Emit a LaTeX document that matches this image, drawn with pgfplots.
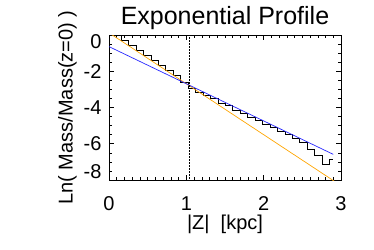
\documentclass[border=0pt]{standalone}
\usepackage{pgfplots}
\pgfplotsset{compat=1.18}
\usepackage{fontspec}
\setmainfont{Liberation Sans}
\definecolor{idlorange}{RGB}{255,165,0}
\definecolor{idlblue}{RGB}{40,40,255}
\begin{document}
\begin{tikzpicture}
\useasboundingbox (-109pt,-69pt) rectangle (265pt,180pt);
\begin{axis}[at={(0,0)}, anchor=south west, scale only axis,
  width=232pt, height=145pt,
  xmin=0, xmax=3, ymin=-8, ymax=0,
  xtick={0,1,2,3}, ytick={-8,-6,-4,-2,0},
  yticklabels={\raisebox{8pt}[\height][\depth]{-8},-6,-4,-2,\raisebox{-7pt}[\height][\depth]{0}},
  minor x tick num=9, minor y tick num=3,
  tick align=inside, major tick length=5pt, minor tick length=3pt,
  tick style={black, line width=0.6pt},
  axis line style={line width=0.8pt},
  /pgf/number format/assume math mode=true,
  ticklabel style={font=\fontsize{20}{24}\selectfont},
  xticklabel style={yshift=-13pt},
  yticklabel style={xshift=-4pt},
  label style={font=\fontsize{20}{24}\selectfont},
  xlabel style={yshift=3pt},
  title={Exponential Profile},
  title style={font=\fontsize{25}{30}\selectfont, yshift=-4pt},
  xlabel={|Z|\ \ [kpc]},
  ylabel={Ln( Mass/Mass(z=0) )},
  clip=true,
]
\addplot[black, line width=0.7pt, const plot mark left, mark=none] coordinates {
(0.050,-0.01) (0.158,-0.27) (0.254,-0.57) (0.351,-0.86) (0.447,-1.14)
(0.543,-1.42) (0.639,-1.70) (0.735,-1.97) (0.832,-2.24) (0.928,-2.62)
(1.024,-2.92) (1.120,-3.15) (1.216,-3.35) (1.313,-3.50) (1.409,-3.75)
(1.505,-3.90) (1.601,-4.15) (1.697,-4.30) (1.794,-4.52) (1.890,-4.70)
(1.986,-4.93) (2.082,-5.10) (2.178,-5.33) (2.275,-5.48) (2.371,-5.72)
(2.467,-5.90) (2.563,-6.30) (2.659,-6.62) (2.756,-7.12) (2.852,-6.88)
(2.900,-6.88)};
\addplot[idlorange, line width=0.7pt] coordinates {(0,0.12) (3,-8.31)};
\addplot[idlblue, line width=0.7pt] coordinates {(0,-0.64) (2.90,-6.585)};
\addplot[black, densely dotted, line width=0.5pt] coordinates {(1.04,-8) (1.04,0)};
\end{axis}
\end{tikzpicture}
\end{document}
